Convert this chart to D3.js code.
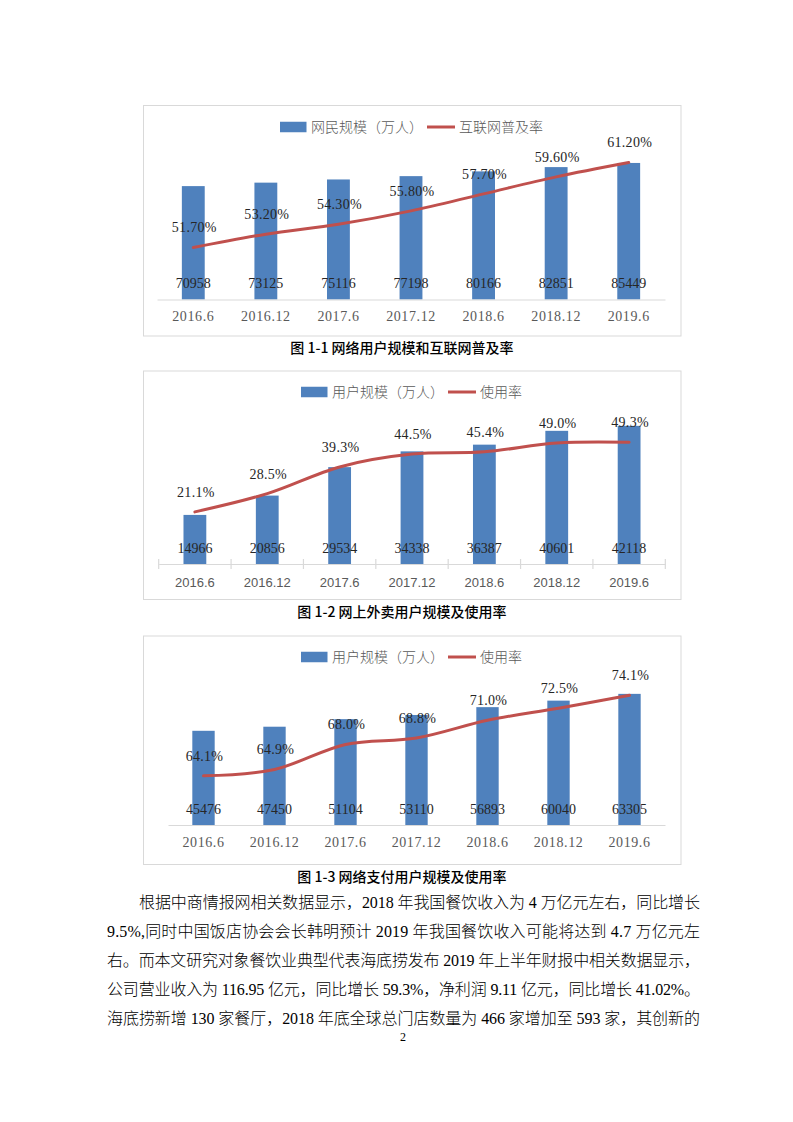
<!DOCTYPE html>
<html>
<head>
<meta charset="utf-8">
<script src="https://cdn.jsdelivr.net/npm/d3@7"></script>
<style>
  body { margin: 0; background: #fff; }
  svg { display: block; }
</style>
</head>
<body>
<script>
// categories shared by all three charts
const periods = ["2016.6", "2016.12", "2017.6", "2017.12", "2018.6", "2018.12", "2019.6"];

// chart 1: netizens (10k people) and internet penetration (%)
const netizens = [70958, 73125, 75116, 77198, 80166, 82851, 85449];
const penetration = [51.7, 53.2, 54.3, 55.8, 57.7, 59.6, 61.2];

// chart 2: online takeout users and usage rate
const takeoutUsers = [14966, 20856, 29534, 34338, 36387, 40601, 42118];
const takeoutRate = [21.1, 28.5, 39.3, 44.5, 45.4, 49.0, 49.3];

// chart 3: online payment users and usage rate
const payUsers = [45476, 47450, 51104, 53110, 56893, 60040, 63305];
const payRate = [64.1, 64.9, 68.0, 68.8, 71.0, 72.5, 74.1];

const bodyLines = [
  "根据中商情报网相关数据显示，2018 年我国餐饮收入为 4 万亿元左右，同比增长",
  "9.5%,同时中国饭店协会会长韩明预计 2019 年我国餐饮收入可能将达到 4.7 万亿元左",
  "右。而本文研究对象餐饮业典型代表海底捞发布 2019 年上半年财报中相关数据显示，",
  "公司营业收入为 116.95 亿元，同比增长 59.3%，净利润 9.11 亿元，同比增长 41.02%。",
  "海底捞新增 130 家餐厅，2018 年底全球总门店数量为 466 家增加至 593 家，其创新的"
];

const BLUE = "#4f81bd", RED = "#c0504d", GRID = "#d9d9d9", GREY = "#595959";
const SERIF = "'Liberation Serif', 'Noto Sans CJK SC', serif";
const SANS = "'Liberation Sans', 'Noto Sans CJK SC', sans-serif";

const svg = d3.select("body").append("svg")
    .attr("width", 793)
    .attr("height", 1122);
svg.append("rect").attr("width", 793).attr("height", 1122).attr("fill", "#fff");

function draw_chart(cfg) {
  const g = svg.append("g");

  // chart frame
  g.append("rect")
      .attr("x", cfg.box[0]).attr("y", cfg.box[1])
      .attr("width", cfg.box[2] - cfg.box[0]).attr("height", cfg.box[3] - cfg.box[1])
      .attr("fill", "#fff").attr("stroke", GRID).attr("stroke-width", 1);

  const x = d3.scaleBand().domain(periods).range([cfg.left, cfg.right]).padding(0);
  const y = d3.scaleLinear().domain(cfg.barDomain).range([cfg.axisY, cfg.top]);
  const y2 = d3.scaleLinear().domain(cfg.rateDomain).range([cfg.axisY, cfg.top]);
  const barW = x.bandwidth() * 0.315;
  const cx = function(d) { return x(d) + x.bandwidth() / 2; };

  // bars
  g.selectAll(".bar").data(periods).enter().append("rect")
      .attr("class", "bar")
      .attr("x", function(d) { return cx(d) - barW / 2; })
      .attr("y", function(d, i) { return y(cfg.bars[i]); })
      .attr("width", barW)
      .attr("height", function(d, i) { return cfg.axisY - y(cfg.bars[i]); })
      .attr("fill", BLUE);

  // x axis
  const ax = g.append("g")
      .attr("transform", "translate(0," + cfg.axisY + ")")
      .call(d3.axisBottom(x).tickSize(0).tickSizeOuter(0));
  ax.select(".domain").attr("stroke", GRID).attr("stroke-width", 1.2);
  ax.selectAll("text")
      .attr("y", cfg.labelDy).attr("dy", "0.35em")
      .attr("fill", GREY)
      .style("font-family", cfg.axisFont)
      .style("font-size", cfg.axisFontSize + "px")
      .style("letter-spacing", cfg.axisSpacing + "px");

  if (cfg.ticks) {
    const edges = periods.map(function(d) { return x(d); }).concat([cfg.right]);
    g.selectAll(".edge").data(edges).enter().append("line")
        .attr("x1", function(d) { return d; }).attr("x2", function(d) { return d; })
        .attr("y1", cfg.axisY - 5).attr("y2", cfg.axisY + 5)
        .attr("stroke", GRID).attr("stroke-width", 1.2);
  }

  // bar value labels, at the inside base
  g.selectAll(".blabel").data(periods).enter().append("text")
      .attr("x", cx)
      .attr("y", cfg.axisY - 16)
      .attr("dy", "0.35em")
      .attr("text-anchor", "middle")
      .attr("fill", "#262626")
      .style("font-family", SERIF).style("font-size", "14px")
      .text(function(d, i) { return cfg.bars[i]; });

  // smoothed rate line
  const pts = periods.map(function(d, i) { return [cx(d), y2(cfg.rates[i])]; });
  g.append("path")
      .attr("d", d3.line().curve(d3.curveCardinal.tension(0))(pts))
      .attr("fill", "none")
      .attr("stroke", RED)
      .attr("stroke-width", 3)
      .attr("stroke-linecap", "round");

  g.selectAll(".rlabel").data(periods).enter().append("text")
      .attr("x", function(d) { return cx(d) + 1; })
      .attr("y", function(d, i) { return y2(cfg.rates[i]) - 20; })
      .attr("dy", "0.35em")
      .attr("text-anchor", "middle")
      .attr("fill", "#262626")
      .style("font-family", SERIF).style("font-size", "14px")
      .style("letter-spacing", "0.3px")
      .text(function(d, i) { return cfg.rates[i].toFixed(cfg.decimals) + "%"; });

  // legend
  const lg = g.append("g").attr("transform", "translate(" + cfg.legendX + "," + cfg.legendY + ")");
  lg.append("rect").attr("x", 0).attr("y", -5.25).attr("width", 26.5).attr("height", 10.5).attr("fill", BLUE);
  const t1 = lg.append("text").attr("x", 31).attr("dy", "0.35em")
      .attr("fill", GREY).style("font-family", SERIF).style("font-size", "14px")
      .style("font-weight", 300)
      .text(cfg.barName);
  const w1 = t1.node().getComputedTextLength();
  lg.append("line").attr("x1", 31 + w1 + 4).attr("x2", 31 + w1 + 32)
      .attr("stroke", RED).attr("stroke-width", 3);
  lg.append("text").attr("x", 31 + w1 + 36).attr("dy", "0.35em")
      .attr("fill", GREY).style("font-family", SERIF).style("font-size", "14px")
      .style("font-weight", 300)
      .text(cfg.rateName);

  // caption
  svg.append("text")
      .attr("x", 402).attr("y", cfg.captionY).attr("dy", "0.35em")
      .attr("text-anchor", "middle")
      .attr("fill", "#000")
      .style("font-family", "'Noto Sans CJK SC', sans-serif")
      .style("font-weight", 500).style("font-size", "14px")
      .text(cfg.caption);
}

draw_chart({
  box: [143.5, 105.5, 681, 336],
  left: 157, right: 665, axisY: 299.5, top: 139.7,
  bars: netizens, rates: penetration,
  barDomain: [0, 100000], rateDomain: [45.9, 63.75],
  decimals: 2, labelDy: 17,
  axisFont: SERIF, axisFontSize: 14, axisSpacing: 0.6, ticks: false,
  legendX: 280, legendY: 127,
  barName: "网民规模（万人）", rateName: "互联网普及率",
  caption: "图 1-1  网络用户规模和互联网普及率", captionY: 348
});

draw_chart({
  box: [143.5, 371, 681, 599.5],
  left: 158.7, right: 665.3, axisY: 564, top: 400,
  bars: takeoutUsers, rates: takeoutRate,
  barDomain: [0, 50000], rateDomain: [0, 66.4],
  decimals: 1, labelDy: 18.3,
  axisFont: SANS, axisFontSize: 13, axisSpacing: 0, ticks: true,
  legendX: 301, legendY: 392,
  barName: "用户规模（万人）", rateName: "使用率",
  caption: "图 1-2  网上外卖用户规模及使用率", captionY: 612
});

draw_chart({
  box: [143.5, 636, 681, 864.5],
  left: 168, right: 665, axisY: 825, top: 680,
  bars: payUsers, rates: payRate,
  barDomain: [0, 70000], rateDomain: [58, 76],
  decimals: 1, labelDy: 17,
  axisFont: SERIF, axisFontSize: 14, axisSpacing: 0.6, ticks: false,
  legendX: 301, legendY: 657,
  barName: "用户规模（万人）", rateName: "使用率",
  caption: "图 1-3  网络支付用户规模及使用率", captionY: 877
});

// body paragraph, justified line by line
svg.selectAll(".body").data(bodyLines).enter().append("text")
    .attr("x", function(d, i) { return i === 0 ? 139 : 107; })
    .attr("y", function(d, i) { return 902 + i * 29; })
    .attr("dy", "0.35em")
    .attr("textLength", function(d, i) { return i === 0 ? 561 : 593; })
    .attr("lengthAdjust", "spacing")
    .attr("fill", "#000")
    .style("font-family", SERIF).style("font-size", "16px")
    .style("font-weight", 300)
    .text(function(d) { return d; });

svg.append("text")
    .attr("x", 403).attr("y", 1037).attr("dy", "0.35em")
    .attr("text-anchor", "middle")
    .style("font-family", SERIF).style("font-size", "12px")
    .text("2");
</script>
</body>
</html>
